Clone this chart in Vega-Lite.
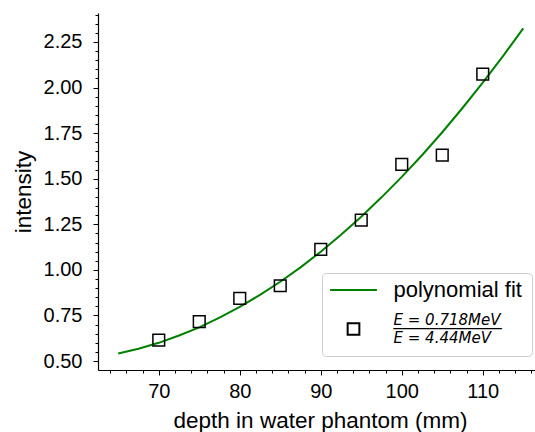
{
  "$schema": "https://vega.github.io/schema/vega-lite/v6.json",
  "width": 437,
  "height": 357,
  "autosize": {"type": "none"},
  "padding": {"left": 98, "top": 13, "right": 0, "bottom": 62},
  "background": "white",
  "config": {"view": {"stroke": null}, "font": "Liberation Sans"},
  "datasets": {
    "fit": [
      {"depth": 65, "intensity": 0.542, "series": "polynomial fit"},
      {"depth": 67.5, "intensity": 0.568, "series": "polynomial fit"},
      {"depth": 70, "intensity": 0.600, "series": "polynomial fit"},
      {"depth": 72.5, "intensity": 0.640, "series": "polynomial fit"},
      {"depth": 75, "intensity": 0.685, "series": "polynomial fit"},
      {"depth": 77.5, "intensity": 0.738, "series": "polynomial fit"},
      {"depth": 80, "intensity": 0.797, "series": "polynomial fit"},
      {"depth": 82.5, "intensity": 0.863, "series": "polynomial fit"},
      {"depth": 85, "intensity": 0.935, "series": "polynomial fit"},
      {"depth": 87.5, "intensity": 1.014, "series": "polynomial fit"},
      {"depth": 90, "intensity": 1.100, "series": "polynomial fit"},
      {"depth": 92.5, "intensity": 1.193, "series": "polynomial fit"},
      {"depth": 95, "intensity": 1.292, "series": "polynomial fit"},
      {"depth": 97.5, "intensity": 1.398, "series": "polynomial fit"},
      {"depth": 100, "intensity": 1.510, "series": "polynomial fit"},
      {"depth": 102.5, "intensity": 1.629, "series": "polynomial fit"},
      {"depth": 105, "intensity": 1.755, "series": "polynomial fit"},
      {"depth": 107.5, "intensity": 1.888, "series": "polynomial fit"},
      {"depth": 110, "intensity": 2.027, "series": "polynomial fit"},
      {"depth": 112.5, "intensity": 2.173, "series": "polynomial fit"},
      {"depth": 115, "intensity": 2.325, "series": "polynomial fit"}
    ],
    "points": [
      {"depth": 70, "intensity": 0.615, "series": "E"},
      {"depth": 75, "intensity": 0.716, "series": "E"},
      {"depth": 80, "intensity": 0.844, "series": "E"},
      {"depth": 85, "intensity": 0.913, "series": "E"},
      {"depth": 90, "intensity": 1.113, "series": "E"},
      {"depth": 95, "intensity": 1.273, "series": "E"},
      {"depth": 100, "intensity": 1.579, "series": "E"},
      {"depth": 105, "intensity": 1.630, "series": "E"},
      {"depth": 110, "intensity": 2.074, "series": "E"}
    ]
  },
  "layer": [
    {
      "data": {"name": "fit"},
      "mark": {"type": "line", "strokeWidth": 2},
      "encoding": {
        "x": {
          "field": "depth", "type": "quantitative",
          "scale": {"domain": [62.5, 116.45], "nice": false, "zero": false},
          "axis": {
            "values": [64,66,68,70,72,74,76,78,80,82,84,86,88,90,92,94,96,98,100,102,104,106,108,110,112,114,116],
            "tickCount": 200,
            "labelExpr": "datum.value % 10 == 0 ? format(datum.value, 'd') : ''",
            "tickSize": {"condition": {"test": "datum.value % 10 == 0", "value": 5}, "value": 3},
            "labelOverlap": false,
            "labelFlush": false,
            "grid": false,
            "title": "depth in water phantom (mm)",
            "titleX": 222,
            "titleFontSize": 22.5,
            "titleFontWeight": "normal",
            "titleColor": "black",
            "titlePadding": 8,
            "labelFontSize": 20,
            "labelColor": "black",
            "labelPadding": 6,
            "domainColor": "black",
            "domainWidth": 1.2,
            "tickColor": "black",
            "tickWidth": 1
          }
        },
        "y": {
          "field": "intensity", "type": "quantitative",
          "scale": {"domain": [0.451, 2.409], "nice": false, "zero": false},
          "axis": {
            "values": [0.5,0.55,0.6,0.65,0.7,0.75,0.8,0.85,0.9,0.95,1.0,1.05,1.1,1.15,1.2,1.25,1.3,1.35,1.4,1.45,1.5,1.55,1.6,1.65,1.7,1.75,1.8,1.85,1.9,1.95,2.0,2.05,2.1,2.15,2.2,2.25,2.3,2.35,2.4],
            "tickCount": 200,
            "labelExpr": "abs(datum.value*4 - round(datum.value*4)) < 0.01 ? format(datum.value, '.2f') : ''",
            "tickSize": {"condition": {"test": "abs(datum.value*4 - round(datum.value*4)) < 0.01", "value": 5}, "value": 3},
            "labelOverlap": false,
            "labelFlush": false,
            "grid": false,
            "title": "intensity",
            "titleFontSize": 22.5,
            "titleFontWeight": "normal",
            "titleColor": "black",
            "titlePadding": 8,
            "labelFontSize": 20,
            "labelColor": "black",
            "labelPadding": 11,
            "domainColor": "black",
            "domainWidth": 1.2,
            "tickColor": "black",
            "tickWidth": 1
          }
        },
        "stroke": {
          "field": "series", "type": "nominal",
          "scale": {"domain": ["polynomial fit", "E"], "range": ["#008000", "#000000"]},
          "legend": {
            "title": null,
            "orient": "none",
            "legendX": 224,
            "legendY": 260,
            "padding": 10,
            "fillColor": "rgba(255,255,255,0.8)",
            "strokeColor": "#cccccc",
            "cornerRadius": 4,
            "labelFont": "Liberation Sans",
            "labelFontSize": 22,
            "labelColor": "black",
            "labelLimit": 400,
            "symbolSize": 137,
            "symbolStrokeWidth": 2,
            "symbolOffset": 14.5,
            "labelOffset": 33,
            "rowPadding": 12,
            "labelExpr": "datum.value == 'E' ? ['E = 0.718MeV', '────────────', '\u2009E = 4.44MeV'] : datum.label",
            "encode": {
              "labels": {"update": {
                "font": [{"test": "datum.value == 'E'", "value": "DejaVu Sans"}, {"value": "Liberation Sans"}],
                "fontStyle": [{"test": "datum.value == 'E'", "value": "italic"}, {"value": "normal"}],
                "fontSize": [{"test": "datum.value == 'E'", "value": 15}, {"value": 22}],
                "lineHeight": {"value": 8.7},
                "dy": [{"test": "datum.value == 'E'", "value": -8.7}, {"value": 0}]
              }}
            }
          }
        }
      }
    },
    {
      "data": {"name": "points"},
      "mark": {"type": "point", "filled": false, "size": 137, "strokeWidth": 1.5, "opacity": 1},
      "encoding": {
        "x": {"field": "depth", "type": "quantitative"},
        "y": {"field": "intensity", "type": "quantitative"},
        "stroke": {"field": "series", "type": "nominal"},
        "shape": {
          "field": "series", "type": "nominal",
          "scale": {"domain": ["polynomial fit", "E"], "range": ["M-4,0H4", "square"]}
        }
      }
    },
    {
      "mark": {"type": "rule", "color": "#ff0000", "strokeWidth": 2},
      "encoding": {"x": {"datum": 86.9}}
    },
    {
      "mark": {"type": "rule", "color": "black", "strokeWidth": 1.2},
      "encoding": {"y": {"datum": 2.409}}
    }
  ]
}
